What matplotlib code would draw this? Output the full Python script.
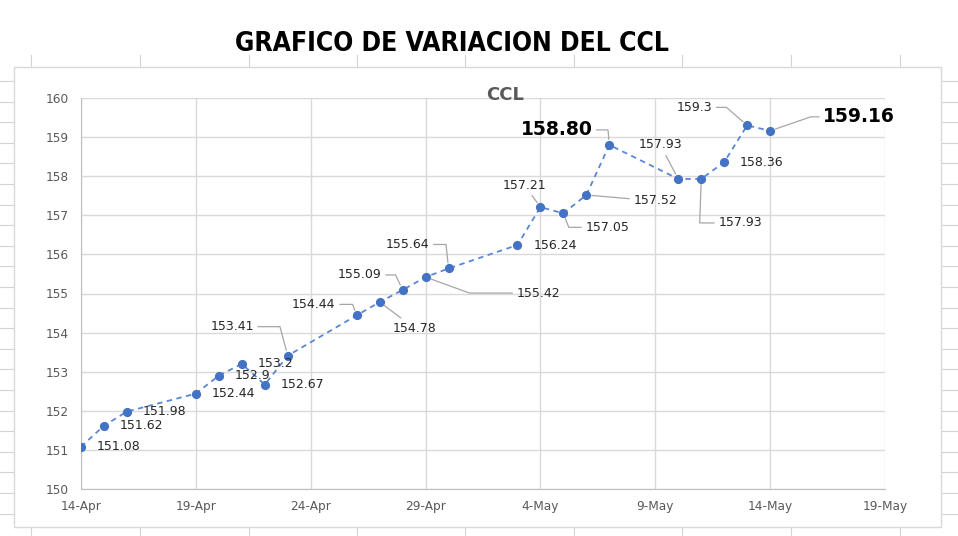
import datetime as dt

import matplotlib
matplotlib.use("Agg")
import matplotlib.dates as mdates
from matplotlib import pyplot as plt
from matplotlib import font_manager
from matplotlib.lines import Line2D
from matplotlib.patches import Rectangle

# data (year assumed)
DATES = [
    "2021-04-14", "2021-04-15", "2021-04-16", "2021-04-19", "2021-04-20",
    "2021-04-21", "2021-04-22", "2021-04-23", "2021-04-26", "2021-04-27",
    "2021-04-28", "2021-04-29", "2021-04-30", "2021-05-03", "2021-05-04",
    "2021-05-05", "2021-05-06", "2021-05-07", "2021-05-10", "2021-05-11",
    "2021-05-12", "2021-05-13", "2021-05-14",
]
CCL = [
    151.08, 151.62, 151.98, 152.44, 152.90, 153.20, 152.67, 153.41, 154.44,
    154.78, 155.09, 155.42, 155.64, 156.24, 157.21, 157.05, 157.52, 158.80,
    157.93, 157.93, 158.36, 159.30, 159.16,
]
LABELS = [
    "151.08", "151.62", "151.98", "152.44", "152.9", "153.2", "152.67",
    "153.41", "154.44", "154.78", "155.09", "155.42", "155.64", "156.24",
    "157.21", "157.05", "157.52", "158.80", "157.93", "157.93", "158.36",
    "159.3", "159.16",
]
HIGHLIGHT = ["158.80", "159.16"]

TITLE = "GRAFICO DE VARIACION DEL CCL"
CHART_TITLE = "CCL"

# label placement: offset in pixels from the point (right, up), alignment,
# leader angle at the point (None = no leader, "s" = straight leader)
LABEL_LAYOUT = [
    (16, 0, "left", None), (16, 0, "left", None), (16, 0, "left", None),
    (16, 0, "left", None), (16, 0, "left", None), (16, 0, "left", None),
    (16, 0, "left", None), (-34, 29, "right", 105), (-21, 11, "right", 110),
    (35, -26, "center", "s"), (-21, 15, "right", 115), (91, -16, "left", -20),
    (-19, 24, "right", 96), (16, 0, "left", None), (-16, 22, "center", "s"),
    (22, -14, "left", 111), (47, -6, "left", "s"), (-17, 15, "right", 95),
    (-18, 34, "center", "s"), (17, -44, "left", 88), (15, 0, "left", None),
    (-35, 18, "right", 139), (53, 14, "left", 19),
]

W, H = 958, 536
BLUE = "#4472C4"
GRID = "#d9d9d9"
TEXT_GRAY = "#595959"


def title_font() -> dict:
    names = {f.name for f in font_manager.fontManager.ttflist}
    if "Liberation Sans Narrow" in names:
        return {"family": "Liberation Sans Narrow", "fontsize": 23}
    return {"family": "DejaVu Sans", "fontsize": 19, "fontstretch": "condensed"}


def main() -> None:
    dates = [dt.datetime.strptime(d, "%Y-%m-%d") for d in DATES]

    fig = plt.figure(figsize=(W / 100, H / 100), dpi=100)
    fig.patch.set_facecolor("white")

    # faint spreadsheet cell lines behind the chart
    for x in [31, 140, 249, 357, 465, 574, 682, 791, 900]:
        for y0, y1 in [(55, 67), (527, 536)]:
            fig.add_artist(Line2D([x / W, x / W], [1 - y0 / H, 1 - y1 / H],
                                  color="#d4d4d4", lw=0.8, zorder=-2))
    for k in range(22):
        y = 81 + 20.6 * k
        for x0, x1 in [(0, 14), (941, 958)]:
            fig.add_artist(Line2D([x0 / W, x1 / W], [1 - y / H, 1 - y / H],
                                  color="#d4d4d4", lw=0.8, zorder=-2))

    # chart frame
    fig.add_artist(Rectangle((14 / W, 1 - 527 / H), (941 - 14) / W,
                             (527 - 67) / H, transform=fig.transFigure,
                             facecolor="white", edgecolor=GRID, lw=1,
                             zorder=-1))

    fig.text(452 / W, 1 - 44 / H, TITLE, ha="center", va="center",
             fontweight="bold", color="black", **title_font())

    ax = fig.add_axes([81 / W, 1 - 489 / H, (885 - 81) / W, (489 - 98) / H])
    ax.set_facecolor("none")

    ax.plot(dates, CCL, linestyle=(0, (3, 2.5)), color="#5b86d4", lw=1.3,
            marker="o", markersize=5.6, markerfacecolor=BLUE,
            markeredgecolor=BLUE, zorder=3)

    start = dt.datetime(2021, 4, 14)
    ticks = [start + dt.timedelta(days=5 * i) for i in range(8)]
    ax.set_xlim(ticks[0], ticks[-1])
    ax.set_xticks(ticks)
    ax.xaxis.set_major_formatter(
        matplotlib.ticker.FuncFormatter(
            lambda v, _: f"{mdates.num2date(v).day}-{mdates.num2date(v):%b}"))
    ax.set_ylim(150, 160)
    ax.set_yticks(range(150, 161))

    ax.grid(True, color=GRID, lw=1)
    ax.set_axisbelow(True)
    for side in ["top", "right"]:
        ax.spines[side].set_visible(False)
    for side in ["left", "bottom"]:
        ax.spines[side].set_color("#bfbfbf")
    ax.tick_params(length=0, labelsize=8.7, labelcolor=TEXT_GRAY)
    ax.tick_params(axis="y", pad=9)
    ax.tick_params(axis="x", pad=8)

    ax.text(505 / W, 1 - 95 / H, CHART_TITLE, transform=fig.transFigure,
            ha="center", va="center", fontsize=13, fontweight="bold",
            color=TEXT_GRAY)

    for d, v, text, (dx, dy, ha, leader) in zip(dates, CCL, LABELS,
                                                 LABEL_LAYOUT):
        big = text in HIGHLIGHT
        props = None
        if leader == "s":
            props = dict(arrowstyle="-", color="#a6a6a6", lw=0.9,
                         shrinkA=1, shrinkB=4)
        elif leader is not None:
            props = dict(arrowstyle="-", color="#a6a6a6", lw=0.9,
                         shrinkA=1, shrinkB=4,
                         connectionstyle=f"angle,angleA=0,angleB={leader},rad=0")
        ax.annotate(text, xy=(d, v), xytext=(dx, dy),
                    textcoords="offset pixels", ha=ha, va="center",
                    fontsize=13.5 if big else 9,
                    fontweight="bold" if big else "normal",
                    color="black" if big else "#262626",
                    arrowprops=props, zorder=4)

    fig.savefig("out.png", dpi=100)
    plt.close(fig)


if __name__ == "__main__":
    main()
